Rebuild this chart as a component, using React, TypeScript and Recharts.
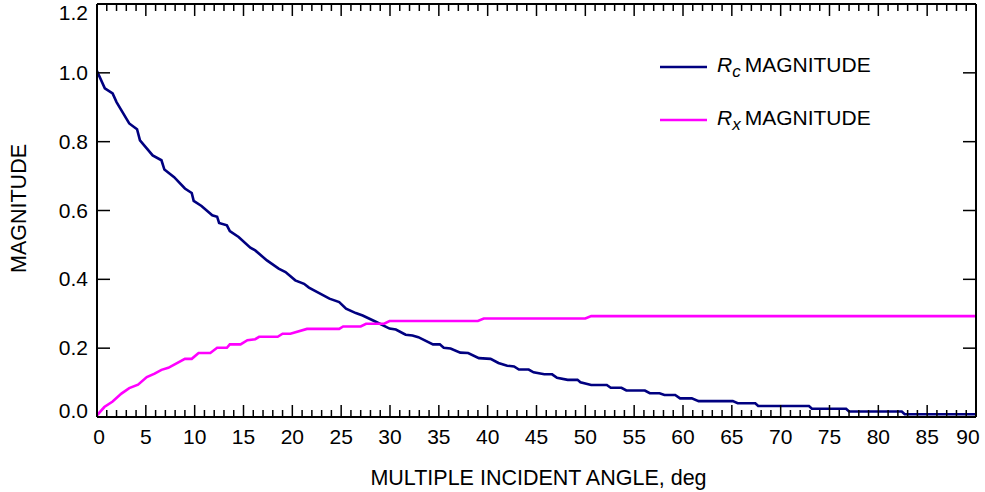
import React from 'react';
import { LineChart, Line, XAxis, YAxis, Legend } from 'recharts';

const rcAngle = [0, 0.8, 1.6, 2.0, 3.3, 4.1, 4.4, 5.7, 6.6, 6.9, 7.9, 9.0, 9.7, 9.9, 10.7, 11.8, 12.3, 12.5, 13.3, 13.6, 14.5, 15.7, 16.2, 17.4, 18.6, 19.3, 20.3, 21.2, 21.7, 23.8, 24.8, 25.5, 26.5, 27.2, 28.6, 29.95, 30.6, 31.6, 32.3, 32.9, 34.4, 35.1, 35.5, 36.2, 37.2, 38.0, 39.1, 40.3, 41.1, 42.0, 42.7, 43.2, 44.2, 44.7, 45.8, 46.6, 47.1, 48.2, 49.2, 49.5, 50.6, 52.2, 52.6, 53.7, 54.2, 56.1, 56.6, 57.6, 58.1, 59.2, 59.7, 60.9, 61.6, 65.1, 65.6, 67.4, 67.7, 72.9, 73.2, 76.7, 77.0, 82.4, 82.7, 90];
const rcValue = [1.005, 0.955, 0.94, 0.915, 0.853, 0.836, 0.804, 0.76, 0.746, 0.719, 0.697, 0.664, 0.651, 0.628, 0.613, 0.586, 0.582, 0.564, 0.557, 0.54, 0.523, 0.492, 0.484, 0.455, 0.431, 0.421, 0.397, 0.387, 0.376, 0.344, 0.334, 0.315, 0.302, 0.295, 0.276, 0.257, 0.254, 0.239, 0.237, 0.232, 0.211, 0.211, 0.201, 0.199, 0.187, 0.186, 0.171, 0.169, 0.157, 0.149, 0.147, 0.138, 0.138, 0.130, 0.124, 0.124, 0.114, 0.108, 0.108, 0.101, 0.093, 0.093, 0.085, 0.085, 0.077, 0.077, 0.069, 0.069, 0.064, 0.064, 0.054, 0.054, 0.046, 0.046, 0.040, 0.040, 0.032, 0.032, 0.024, 0.024, 0.016, 0.016, 0.008, 0.008];

const rxAngle = [0, 0.75, 1.6, 2.5, 3.3, 4.2, 5.1, 5.9, 6.6, 7.3, 9.0, 9.7, 10.4, 11.6, 12.3, 13.3, 13.6, 14.7, 15.4, 16.2, 16.6, 18.5, 19.0, 19.8, 21.5, 24.8, 25.2, 27.0, 27.55, 29.4, 29.95, 39.0, 39.6, 50.0, 50.6, 90];
const rxValue = [0.005, 0.029, 0.045, 0.068, 0.084, 0.094, 0.116, 0.126, 0.137, 0.143, 0.169, 0.169, 0.186, 0.186, 0.201, 0.201, 0.211, 0.211, 0.223, 0.226, 0.233, 0.233, 0.242, 0.242, 0.256, 0.256, 0.263, 0.263, 0.271, 0.271, 0.279, 0.279, 0.286, 0.286, 0.293, 0.293];

const xMajorTicks = [0, 5, 10, 15, 20, 25, 30, 35, 40, 45, 50, 55, 60, 65, 70, 75, 80, 85, 90];
const xAllTicks = Array.from({ length: 91 }, (_, i) => i);
const yTicks = [0, 0.2, 0.4, 0.6, 0.8, 1.0, 1.2];
const yTickLabels = ['0.0', '0.2', '0.4', '0.6', '0.8', '1.0', '1.2'];

const xTitle = 'MULTIPLE INCIDENT ANGLE, deg';
const yTitle = 'MAGNITUDE';
const legendItems = [
  { sym: 'R', sub: 'c', rest: 'MAGNITUDE', color: '#000080' },
  { sym: 'R', sub: 'x', rest: 'MAGNITUDE', color: '#ff00ff' },
];

const rcData = rcAngle.map((a, i) => ({ a, v: rcValue[i] }));
const rxData = rxAngle.map((a, i) => ({ a, v: rxValue[i] }));

const FONT = '"Liberation Sans", Arial, Helvetica, sans-serif';
const FS = 21;
const FS_TITLE = 21.5;

const isMajor = (v: number) => xMajorTicks.indexOf(v) >= 0;

const XTickBottom = (props: any) => {
  const { x, y, payload } = props;
  const v = payload.value;
  const major = isMajor(v);
  const len = major ? 12 : 7;
  let dx = 0;
  if (v === 0) dx = 2;
  if (v === 90) dx = -8;
  return (
    <g>
      <line x1={x} x2={x} y1={y} y2={y - len} stroke="#000" strokeWidth={1.5} />
      {major && (
        <text x={x + dx} y={y + 27} textAnchor="middle" fontFamily={FONT} fontSize={FS} fill="#000">
          {v}
        </text>
      )}
    </g>
  );
};

const XTickTop = (props: any) => {
  const { x, y, payload } = props;
  const v = payload.value;
  const len = isMajor(v) ? 12 : 7;
  return <line x1={x} x2={x} y1={y} y2={y + len} stroke="#000" strokeWidth={1.5} />;
};

const YTickLeft = (props: any) => {
  const { x, y, payload, index } = props;
  const v = payload.value;
  let dy = 0;
  if (v === 0) dy = -6;
  if (Math.abs(v - 1.2) < 1e-9) dy = 9;
  const idx = yTicks.findIndex((t) => Math.abs(t - v) < 1e-9);
  return (
    <g>
      <line x1={x} x2={x + 13} y1={y} y2={y} stroke="#000" strokeWidth={1.5} />
      <text x={x - 9} y={y + dy + 7} textAnchor="end" fontFamily={FONT} fontSize={FS} fill="#000">
        {yTickLabels[idx >= 0 ? idx : index]}
      </text>
    </g>
  );
};

const YTickRight = (props: any) => {
  const { x, y } = props;
  return <line x1={x} x2={x - 13} y1={y} y2={y} stroke="#000" strokeWidth={1.5} />;
};

const XTitle = (props: any) => {
  const vb = props.viewBox || {};
  return (
    <text x={vb.x + vb.width / 2 + 2} y={vb.y + 68} textAnchor="middle" fontFamily={FONT} fontSize={FS_TITLE} fill="#000">
      {xTitle}
    </text>
  );
};

const YTitle = (props: any) => {
  const vb = props.viewBox || {};
  const cx = vb.x + 26;
  const cy = vb.y + vb.height / 2 - 2;
  return (
    <text x={cx} y={cy} transform={`rotate(-90, ${cx}, ${cy})`} textAnchor="middle" fontFamily={FONT} fontSize={FS_TITLE} fill="#000">
      {yTitle}
    </text>
  );
};

const LegendContent = () => (
  <div style={{ fontFamily: FONT, fontSize: FS, color: '#000' }}>
    {legendItems.map((it, i) => (
      <div key={i} style={{ display: 'flex', alignItems: 'center', height: 53 }}>
        <svg width={48} height={6} style={{ display: 'block' }}>
          <line x1={0} x2={47} y1={3} y2={3} stroke={it.color} strokeWidth={2.5} />
        </svg>
        <span style={{ marginLeft: 9, whiteSpace: 'nowrap', lineHeight: 1 }}>
          <i>{it.sym}</i>
          <sub style={{ fontStyle: 'italic', fontSize: 17, verticalAlign: -5 }}>{it.sub}</sub>
          <span style={{ marginLeft: 4 }}>{it.rest}</span>
        </span>
      </div>
    ))}
  </div>
);

export default function App() {
  return (
    <div style={{ position: 'absolute', left: 0, top: 0, width: 985, height: 492, background: '#fff' }}>
      <LineChart width={985} height={492} margin={{ top: 3, right: 8, left: 0, bottom: 0 }}>
        <XAxis
          xAxisId="b"
          dataKey="a"
          type="number"
          domain={[0, 90]}
          allowDataOverflow
          ticks={xAllTicks}
          interval={0}
          height={75}
          tickSize={0}
          tickMargin={0}
          tickLine={false}
          axisLine={{ stroke: '#000', strokeWidth: 2 }}
          tick={<XTickBottom />}
          label={{ content: <XTitle /> } as any}
        />
        <XAxis
          xAxisId="t"
          orientation="top"
          dataKey="a"
          type="number"
          domain={[0, 90]}
          allowDataOverflow
          ticks={xAllTicks}
          interval={0}
          height={1}
          tickSize={0}
          tickMargin={0}
          tickLine={false}
          axisLine={{ stroke: '#000', strokeWidth: 2 }}
          tick={<XTickTop />}
        />
        <YAxis
          yAxisId="l"
          type="number"
          domain={[0, 1.2]}
          allowDataOverflow
          ticks={yTicks}
          interval={0}
          width={97}
          tickSize={0}
          tickMargin={0}
          tickLine={false}
          axisLine={{ stroke: '#000', strokeWidth: 2 }}
          tick={<YTickLeft />}
          label={{ content: <YTitle /> } as any}
        />
        <YAxis
          yAxisId="r"
          orientation="right"
          type="number"
          domain={[0, 1.2]}
          allowDataOverflow
          ticks={yTicks}
          interval={0}
          width={1}
          tickSize={0}
          tickMargin={0}
          tickLine={false}
          axisLine={{ stroke: '#000', strokeWidth: 2 }}
          tick={<YTickRight />}
        />
        <Legend
          layout="vertical"
          align="center"
          verticalAlign="middle"
          content={<LegendContent />}
          wrapperStyle={{ position: 'absolute', left: 660, top: 40, width: 270, bottom: 'auto', right: 'auto' }}
        />
        <Line
          xAxisId="t"
          yAxisId="r"
          data={rxData}
          dataKey="v"
          stroke="none"
          legendType="none"
          dot={false}
          activeDot={false}
          isAnimationActive={false}
        />
        <Line
          xAxisId="b"
          yAxisId="l"
          data={rcData}
          dataKey="v"
          name="Rc MAGNITUDE"
          type="linear"
          stroke="#000080"
          strokeWidth={2.6}
          dot={false}
          activeDot={false}
          isAnimationActive={false}
        />
        <Line
          xAxisId="b"
          yAxisId="l"
          data={rxData}
          dataKey="v"
          name="Rx MAGNITUDE"
          type="linear"
          stroke="#ff00ff"
          strokeWidth={2.6}
          dot={false}
          activeDot={false}
          isAnimationActive={false}
        />
      </LineChart>
    </div>
  );
}
